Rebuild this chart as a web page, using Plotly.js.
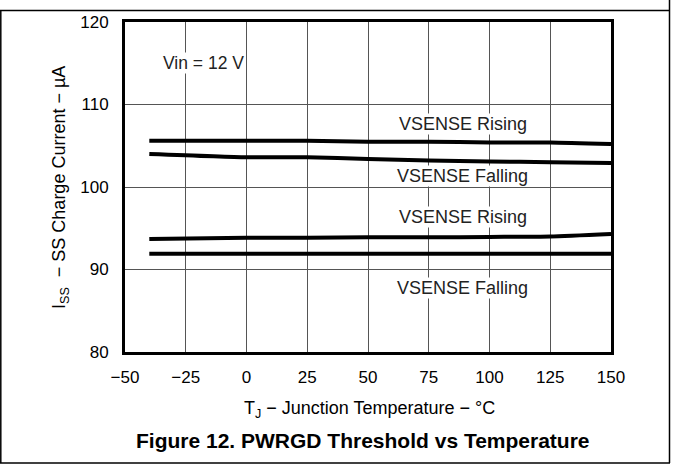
<!DOCTYPE html>
<html><head><meta charset="utf-8">
<script src="https://cdn.plot.ly/plotly-3.0.1.min.js"></script>
<style>html,body{margin:0;padding:0;background:#fff}#c{width:673px;height:466px}</style>
</head><body><div id="c"></div>
<script>
const tempX = [-40, 0, 25, 50, 75, 100, 125, 150];
const risingHigh = [105.6, 105.6, 105.6, 105.5, 105.5, 105.4, 105.4, 105.2];
const fallingHigh = [104.0, 103.6, 103.6, 103.4, 103.2, 103.1, 103.0, 102.9];
const risingLow = [93.7, 93.85, 93.85, 93.9, 93.9, 93.95, 94.0, 94.3];
const fallingLow = [91.9, 91.9, 91.9, 91.9, 91.9, 91.9, 91.9, 91.9];
const xTicks = [-50, -25, 0, 25, 50, 75, 100, 125, 150];
const xTickText = ["−50", "−25", "0", "25", "50", "75", "100", "125", "150"];
const yTicks = [80, 90, 100, 110, 120];

const mk = (y) => ({x: tempX, y: y, type: 'scatter', mode: 'lines', line: {color: '#000', width: 4, shape: 'spline', smoothing: 0.6}, showlegend: false, hoverinfo: 'skip'});
const traces = [mk(risingHigh), mk(fallingHigh), mk(risingLow), mk(fallingLow)];

const F = 'Arial, "Liberation Sans", sans-serif';
const L = 125, R = 611, T = 22, B = 352;
const px = v => (v - L) / (R - L);
const py = v => (B - v) / (B - T);

const lbl = (x, y, text, size) => ({x: x, y: y, xref: 'x', yref: 'y', xanchor: 'center', yanchor: 'middle', text: text, showarrow: false, bgcolor: '#fff', font: {family: F, size: size, color: '#222'}, borderpad: 0});

const axisCommon = {showgrid: true, gridcolor: '#555', gridwidth: 1, zeroline: false, showline: true, linecolor: '#000', linewidth: 3, mirror: true, ticks: '', fixedrange: true, tickfont: {family: F, size: 17, color: '#000'}};

const layout = {
  width: 673, height: 466,
  margin: {l: L, r: 673 - R, t: T, b: 466 - B},
  paper_bgcolor: '#fff', plot_bgcolor: '#fff',
  font: {family: F, size: 16, color: '#000'},
  xaxis: Object.assign({range: [-50, 150], tickvals: xTicks, ticktext: xTickText, ticklabelstandoff: 8}, axisCommon),
  yaxis: Object.assign({range: [80, 120], tickvals: yTicks, ticklabelstandoff: 10}, axisCommon),
  annotations: [
    lbl(-17.5, 115, 'Vin = 12 V', 17.5),
    lbl(89, 107.6, 'VSENSE Rising', 18),
    lbl(89, 101.3, 'VSENSE Falling', 18),
    lbl(89, 96.4, 'VSENSE Rising', 18),
    lbl(89, 87.7, 'VSENSE Falling', 18),
    {x: px(369), y: py(409), xref: 'paper', yref: 'paper', xanchor: 'center', yanchor: 'middle', showarrow: false, text: 'T<sub>J</sub> − Junction Temperature − °C', font: {family: F, size: 18, color: '#000'}},
    {x: px(60), y: py(188), xref: 'paper', yref: 'paper', xanchor: 'center', yanchor: 'middle', showarrow: false, textangle: -90, text: 'I<sub>SS</sub>  − SS Charge Current − µA', font: {family: F, size: 18, color: '#000'}},
    {x: px(363), y: py(440), xref: 'paper', yref: 'paper', xanchor: 'center', yanchor: 'middle', showarrow: false, text: '<b>Figure 12. PWRGD Threshold vs Temperature</b>', font: {family: F, size: 21, color: '#000'}}
  ],
  shapes: [
    {type: 'line', xref: 'paper', yref: 'paper', x0: px(0), x1: px(670), y0: py(10.5), y1: py(10.5), line: {color: '#000', width: 1.5}},
    {type: 'line', xref: 'paper', yref: 'paper', x0: px(0.8), x1: px(0.8), y0: py(10.5), y1: py(463), line: {color: '#000', width: 1.5}},
    {type: 'line', xref: 'paper', yref: 'paper', x0: px(669.5), x1: px(669.5), y0: py(0), y1: py(463), line: {color: '#000', width: 1.5}},
    {type: 'line', xref: 'paper', yref: 'paper', x0: px(0), x1: px(670), y0: py(463), y1: py(463), line: {color: '#000', width: 1.5}}
  ]
};
Plotly.newPlot('c', traces, layout, {displayModeBar: false, staticPlot: true});
</script></body></html>
